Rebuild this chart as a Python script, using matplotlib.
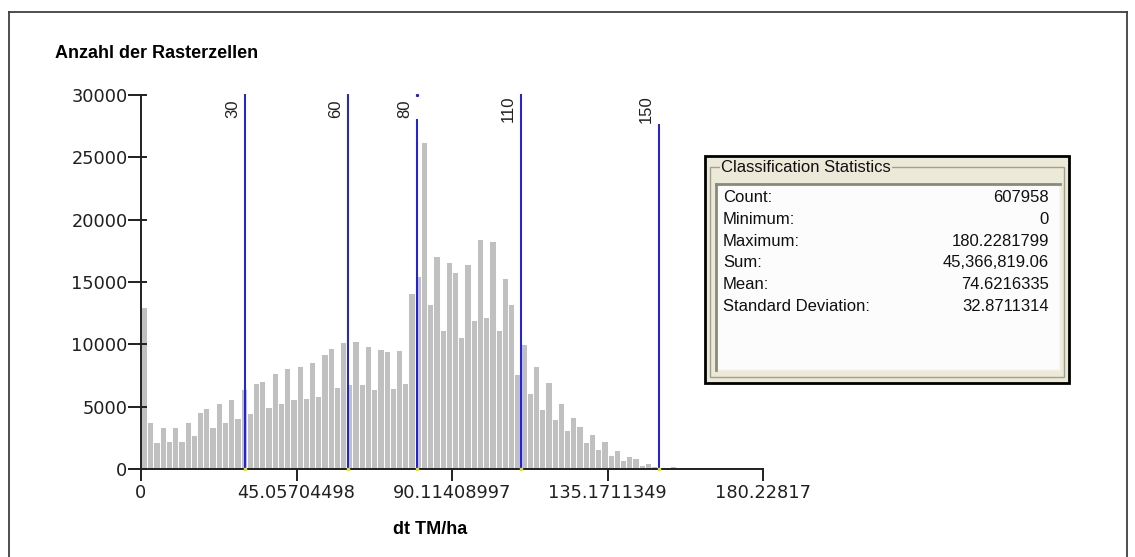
import matplotlib
matplotlib.use("Agg")
import matplotlib.pyplot as plt
from matplotlib.patches import Rectangle
from matplotlib.lines import Line2D
import numpy as np

# ---------------- data ----------------
x_max = 180.22817
n_bins = 100
counts = [13000, 3800, 2150, 3400, 2270, 3400, 2270, 3800, 2700, 4600,
          4870, 3400, 5270, 3800, 5590, 4070, 6390, 4470, 6920, 7060,
          5000, 7720, 5320, 8130, 5590, 8290, 5720, 8560, 5860, 9220,
          9680, 6550, 10160, 6790, 10270, 6790, 9890, 6390, 9650, 9490,
          6520, 9520, 6920, 14140, 15500, 26200, 13210, 17110, 11150, 16580,
          15780, 10610, 16420, 11950, 18450, 12220, 18310, 11150, 15340, 13210,
          7620, 10030, 6120, 8290, 4790, 6950, 3990, 5320, 3130, 4150,
          3480, 2140, 2810, 1600, 2270, 1150, 1520, 750, 1010, 880,
          320, 480, 270, 130, 190, 240, 130, 90]
counts = counts + [0] * (n_bins - len(counts))

class_breaks = [30, 60, 80, 110, 150]
class_labels = ["30", "60", "80", "110", "150"]
class_line_tops = [30000, 30000, 27990, 30000, 27600]

x_ticks = [0, 45.05704498, 90.11408997, 135.1711349, 180.22817]
x_tick_labels = ["0", "45.05704498", "90.11408997", "135.1711349", "180.22817"]
y_ticks = [0, 5000, 10000, 15000, 20000, 25000, 30000]
y_tick_labels = ["0", "5000", "10000", "15000", "20000", "25000", "30000"]

stat_names = ["Count:", "Minimum:", "Maximum:", "Sum:", "Mean:", "Standard Deviation:"]
stat_values = ["607958", "0", "180.2281799", "45,366,819.06", "74.6216335", "32.8711314"]

y_title = "Anzahl der Rasterzellen"
x_title = "dt TM/ha"
box_title = "Classification Statistics"

# ---------------- figure ----------------
W, H = 1135, 557
plt.rcParams['font.family'] = ['Liberation Sans', 'DejaVu Sans']
fig = plt.figure(figsize=(W / 100, H / 100), dpi=100)
fig.patch.set_facecolor('white')

def fx(x):
    return x / W

def fy(y):
    return 1 - y / H

PT = 0.72  # points per pixel at 100 dpi

# outer frame
for (x0, y0, x1, y1) in [(9, 12, 1127, 12), (9, 12, 9, 557), (1127, 12, 1127, 557)]:
    fig.add_artist(Line2D([fx(x0), fx(x1)], [fy(y0), fy(y1)], color='#404040', lw=1.3))

# main axes (0 at x=141, 180.228 at x=763; 0 at y=469, 30000 at y=95)
ax = fig.add_axes([fx(141), fy(469), (763 - 141) / W, (469 - 95) / H])
binw = x_max / n_bins
lefts = np.arange(n_bins) * binw
ax.bar(lefts, counts, width=binw, align='edge', color='#C0C0C0',
       edgecolor='white', linewidth=0.7)

ax.set_xlim(0, x_max)
ax.set_ylim(0, 30000)
for s in ['top', 'right']:
    ax.spines[s].set_visible(False)
for s in ['left', 'bottom']:
    ax.spines[s].set_color('#202020')
    ax.spines[s].set_linewidth(1.4)

tick_font = dict(family='DejaVu Sans', size=12.8)
ax.set_xticks(x_ticks)
ax.set_xticklabels(x_tick_labels, fontdict=tick_font)
ax.set_yticks(y_ticks)
ax.set_yticklabels(y_tick_labels, fontdict=tick_font)
# inner part of y ticks (minor ticks at the same places)
ax.yaxis.remove_overlapping_locs = False
ax.set_yticks(y_ticks, minor=True)
ax.tick_params(axis='x', which='major', direction='out', length=12 * PT, width=1.4,
               color='#202020', labelcolor='#202020', pad=2.5)
ax.tick_params(axis='y', which='major', direction='out', length=13 * PT, width=1.4,
               color='#202020', labelcolor='#202020', pad=0.3)
ax.tick_params(axis='y', which='minor', direction='in', length=6 * PT, width=1.4,
               color='#202020', labelleft=False)

# classification break lines
for b, lab, top in zip(class_breaks, class_labels, class_line_tops):
    ax.plot([b, b], [0, top], color='#1a1aff', lw=1.4, zorder=3, clip_on=False)
    ax.plot([b], [0], marker='s', ms=1.5, color='#e6e600', zorder=4, clip_on=False)
    ax.text(b - 1.3, 28870, lab, rotation=90, ha='right', va='center',
            fontsize=12, color='#202020', clip_on=False)
ax.plot([80], [30000], marker='s', ms=1.2, color='#1a1aff', clip_on=False)

# axis titles
fig.text(fx(55), fy(53), y_title, fontsize=13, fontweight='bold', ha='left', va='center')
fig.text(fx(430), fy(530), x_title, fontsize=13, fontweight='bold', ha='center', va='center')

# ---------------- statistics box ----------------
def frect(x0, y0, x1, y1, **kw):
    r = Rectangle((fx(x0), fy(y1)), (x1 - x0) / W, (y1 - y0) / H,
                  transform=fig.transFigure, **kw)
    fig.add_artist(r)
    return r

frect(705, 156, 1069, 383, facecolor='#ECE9D8', edgecolor='black', linewidth=2.0)
# group box etched border
frect(710, 167, 1064, 377, facecolor='none', edgecolor='#A0A090', linewidth=1.0)
# inner list (sunken)
frect(716, 184, 1060, 370, facecolor='#FCFCFC', edgecolor='#F4F3EA', linewidth=1.2)
fig.add_artist(Line2D([fx(716), fx(716)], [fy(370), fy(184)], color='#8A8A7A', lw=2.0))
fig.add_artist(Line2D([fx(716), fx(1060)], [fy(184), fy(184)], color='#8A8A7A', lw=2.0))
# title over the groupbox line
fig.text(fx(721), fy(167), box_title, fontsize=12, ha='left', va='center', color='#101010',
         bbox=dict(facecolor='#ECE9D8', edgecolor='none', pad=0.8))

row_y = [198, 219.5, 241, 262.5, 284.5, 306.5]
for yy, name, val in zip(row_y, stat_names, stat_values):
    fig.text(fx(723), fy(yy), name, fontsize=12, ha='left', va='center', color='#101010')
    fig.text(fx(1049), fy(yy), val, fontsize=12, ha='right', va='center', color='#101010')

fig.savefig("out.png", dpi=100, facecolor='white')
